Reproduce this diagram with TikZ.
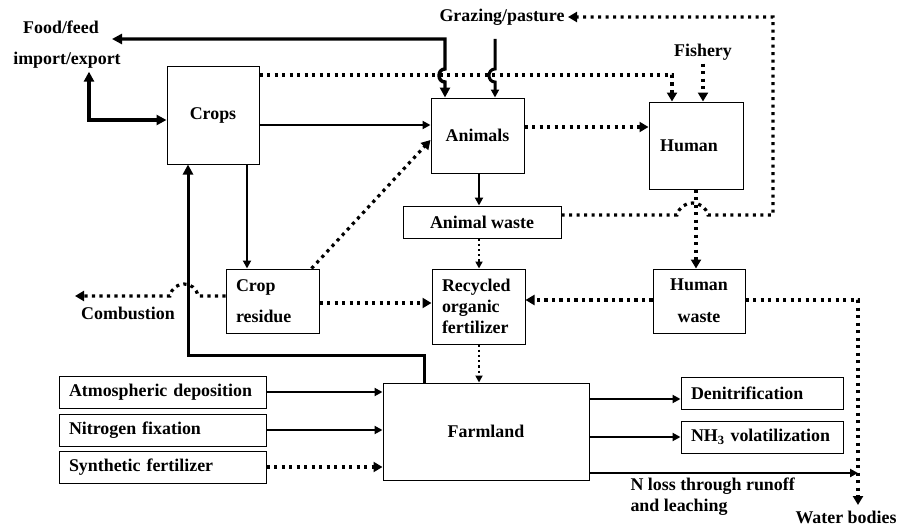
\documentclass[tikz,border=0pt]{standalone}
\usepackage{fontspec}
\setmainfont{Liberation Serif}
\usetikzlibrary{arrows.meta}

\begin{document}
\begin{tikzpicture}[x=1pt, y=-1pt,
  font=\fontsize{17.9}{21}\selectfont\bfseries,
  box/.style={draw, line width=1pt, inner sep=0pt},
  lbox/.style={box, inner xsep=10pt, align=left},
  flow/.style={line width=2.7pt, >={Triangle[length=8pt,width=8pt]}},
  heavy/.style={line width=3.4pt, >={Triangle[length=10pt,width=10pt]}},
  dots/.style={line width=3.2pt, dash pattern=on 3.2pt off 4.3pt, >={Triangle[length=9pt,width=10pt]}},
  smalldots/.style={line width=2.2pt, dash pattern=on 2.2pt off 3pt, >={Triangle[length=7pt,width=7pt]}}]
\useasboundingbox (0,0) rectangle (910,527);

\node[box, minimum width=92pt, minimum height=97pt] (crops) at (213,115.5) {Crops};
\node[box, minimum width=93pt, minimum height=75pt] (animals) at (477.5,135.5) {Animals};
\node[box, minimum width=94pt, minimum height=87pt] (human) at (696,145.5) {Human\hspace*{14pt}};
\node[box, minimum width=158pt, minimum height=32pt] (animalwaste) at (482,222) {Animal waste};
\node[lbox, text width=73pt, minimum height=64pt] (cropres) at (272.5,301) {Crop\\[10pt]residue};
\node[lbox, text width=73pt, minimum height=75pt] (recycled) at (478.5,306.5) {Recycled\\organic\\fertilizer};
\node[box, align=center, minimum width=92pt, minimum height=64pt] (humanwaste) at (699,301) {Human\\[11pt]waste};
\node[box, minimum width=206pt, minimum height=97pt] (farmland) at (486,431.5) {Farmland};
\node[lbox, text width=187pt, minimum height=32pt] (atmos) at (162.5,392) {Atmospheric deposition};
\node[lbox, text width=187pt, minimum height=32pt] (nfix) at (162.5,430) {Nitrogen fixation};
\node[lbox, text width=187pt, minimum height=32pt] (synth) at (162.5,467) {Synthetic fertilizer};
\node[lbox, text width=142pt, minimum height=32pt] (denit) at (762,393) {Denitrification};
\node[lbox, text width=142pt, minimum height=32pt] (nh3) at (762,437) {NH\textsubscript{3} volatilization};

\node (food) at (61,27) {Food/feed};
\node (impexp) at (67,60) {import/export};
\node (grazing) at (502,17) {Grazing/pasture};
\node (fishery) at (703,52) {Fishery};
\node (combustion) at (128,313) {Combustion};
\node (water) at (846,517) {Water bodies};
\node[align=left, anchor=west] (nloss) at (627,497) {N loss through runoff\\and leaching};

\coordinate (tradein) at (112,39);
\coordinate (grazeout) at (495,39);
\coordinate (burnout) at (75,296);
\coordinate (watertop) at (858,505);

\draw[dots, ->] (crops.east |- 0,75) -| (human.north -| 672,0);
\draw[dots, ->] (fishery.south) -- (fishery.south |- human.north);
\draw[dots, ->] (animals.east |- 0,127) -- (human.west |- 0,127);
\draw[dots, ->] ([xshift=-8pt]cropres.north east) -- (animals.west |- 0,140);
\draw[dots, ->] (animalwaste.east |- 0,215) -- (677,215) .. controls (681,199) and (704,199) .. (708,215) -- (773,215) |- (grazing.east);
\draw[dots, ->] (human.south) -- (human.south |- humanwaste.north);
\draw[dots, ->] (cropres.west |- 0,296) -- (198,296) .. controls (195,280) and (173,280) .. (170,296) -- (burnout);
\draw[dots, ->] (cropres.east |- 0,303) -- (recycled.west |- 0,303);
\draw[dots, ->] (humanwaste.west |- 0,300) -- (recycled.east |- 0,300);
\draw[dots, ->] (humanwaste.east |- 0,300) -| (watertop);
\draw[dots, ->] (synth.east) -- (synth.east -| farmland.west);
\draw[smalldots, ->] (animalwaste.south -| 479,0) -- (recycled.north -| 479,0);
\draw[smalldots, ->] (recycled.south -| 479,0) -- (farmland.north -| 479,0);

\draw[heavy, <->] (tradein) -- (445,39) -- (445,69) .. controls (437,69) and (437,82) .. (445,82) -- (animals.north -| 445,0);
\draw[flow, line width=3pt, ->] (grazeout) -- (495,69) .. controls (487,69) and (487,82) .. (495,82) -- (animals.north -| 495,0);
\draw[heavy, line width=4pt, <->] (impexp.south -| 89,0) |- (crops.west |- 0,120);
\draw[heavy, line width=3pt, ->] (farmland.north -| 424,0) -- (424,355) -| (crops.south -| 188,0);
\draw[flow, ->] (crops.east |- 0,125) -- (animals.west |- 0,125);
\draw[flow, ->] (animals.south -| 479,0) -- (animalwaste.north -| 479,0);
\draw[flow, ->] (crops.south -| 247,0) -- (cropres.north -| 247,0);
\draw[flow, ->] (atmos.east) -- (atmos.east -| farmland.west);
\draw[flow, ->] (nfix.east) -- (nfix.east -| farmland.west);
\draw[flow, ->] (farmland.east |- 0,399) -- (denit.west |- 0,399);
\draw[flow, ->] (farmland.east |- nh3.west) -- (nh3.west);
\draw[flow, ->] (farmland.east |- 0,473) -- (watertop |- 0,473);
\end{tikzpicture}
\end{document}
